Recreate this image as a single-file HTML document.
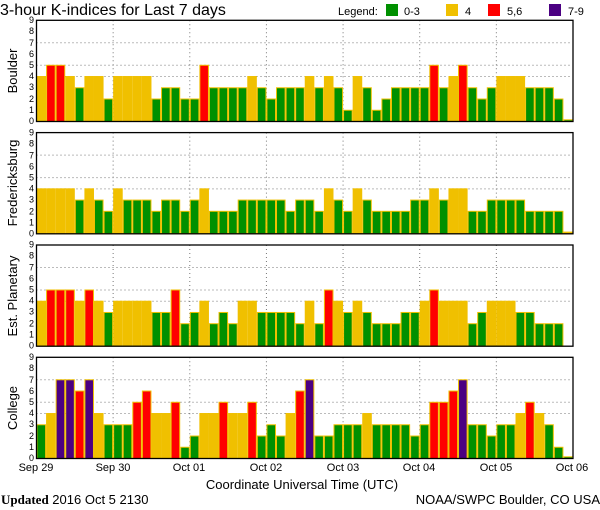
<!DOCTYPE html>
<html><head><meta charset="utf-8"><style>
body{margin:0;background:#fff;width:600px;height:510px;overflow:hidden}
svg{display:block}
text{font-family:"Liberation Sans","DejaVu Sans",sans-serif}
</style></head><body>
<svg id="s" width="600" height="510" viewBox="0 0 600 510" xmlns="http://www.w3.org/2000/svg">
<g id="bars"></g>
<text x="0" y="15" font-size="16">3-hour K-indices for Last 7 days</text>
<text x="338" y="15" font-size="11">Legend:</text>
<rect x="386" y="4" width="12" height="12" fill="#009000"/><text x="404" y="15" font-size="11">0-3</text>
<rect x="446" y="4" width="12" height="12" fill="#f0c000"/><text x="465" y="15" font-size="11">4</text>
<rect x="488" y="4" width="12" height="12" fill="#ff0000"/><text x="507" y="15" font-size="11">5,6</text>
<rect x="549" y="4" width="12" height="12" fill="#4b0082"/><text x="568" y="15" font-size="11">7-9</text>
<text transform="translate(17,71) rotate(-90)" font-size="13" text-anchor="middle">Boulder</text>
<text transform="translate(17,183) rotate(-90)" font-size="13" text-anchor="middle">Fredericksburg</text>
<text transform="translate(17,296) rotate(-90)" font-size="13" text-anchor="middle">Est. Planetary</text>
<text transform="translate(17,408) rotate(-90)" font-size="13" text-anchor="middle">College</text>
<g font-size="9" text-anchor="end">
<g transform="translate(0,0)"><text x="34" y="124">0</text><text x="34" y="113">1</text><text x="34" y="102">2</text><text x="34" y="90">3</text><text x="34" y="79">4</text><text x="34" y="68">5</text><text x="34" y="57">6</text><text x="34" y="46">7</text><text x="34" y="34">8</text><text x="34" y="23">9</text></g>
<g transform="translate(0,112.3)"><text x="34" y="124">0</text><text x="34" y="113">1</text><text x="34" y="102">2</text><text x="34" y="90">3</text><text x="34" y="79">4</text><text x="34" y="68">5</text><text x="34" y="57">6</text><text x="34" y="46">7</text><text x="34" y="34">8</text><text x="34" y="23">9</text></g>
<g transform="translate(0,224.7)"><text x="34" y="124">0</text><text x="34" y="113">1</text><text x="34" y="102">2</text><text x="34" y="90">3</text><text x="34" y="79">4</text><text x="34" y="68">5</text><text x="34" y="57">6</text><text x="34" y="46">7</text><text x="34" y="34">8</text><text x="34" y="23">9</text></g>
<g transform="translate(0,337)"><text x="34" y="124">0</text><text x="34" y="113">1</text><text x="34" y="102">2</text><text x="34" y="90">3</text><text x="34" y="79">4</text><text x="34" y="68">5</text><text x="34" y="57">6</text><text x="34" y="46">7</text><text x="34" y="34">8</text><text x="34" y="23">9</text></g>
</g>
<g font-size="11" text-anchor="middle">
<text x="36" y="471">Sep 29</text><text x="113" y="471">Sep 30</text><text x="189" y="471">Oct 01</text><text x="266" y="471">Oct 02</text><text x="343" y="471">Oct 03</text><text x="419" y="471">Oct 04</text><text x="496" y="471">Oct 05</text><text x="572" y="471">Oct 06</text>
</g>
<text x="302" y="489" font-size="13" text-anchor="middle">Coordinate Universal Time (UTC)</text>
<text x="1" y="504" font-size="13"><tspan font-family="Liberation Serif,serif" font-weight="bold">Updated</tspan> 2016 Oct  5 2130</text>
<text x="600" y="504" font-size="13" text-anchor="end">NOAA/SWPC Boulder, CO USA</text>
</svg>
<script>
var D=[
[4,5,5,4,3,4,4,2, 4,4,4,4,2,3,3,2, 2,5,3,3,3,3,4,3, 2,3,3,3,4,3,4,3, 1,4,3,1,2,3,3,3, 3,5,3,4,5,3,2,3, 4,4,4,3,3,3,2,0.15],
[4,4,4,4,3,4,3,2, 4,3,3,3,2,3,3,2, 3,4,2,2,2,3,3,3, 3,3,2,3,3,2,4,3, 2,4,3,2,2,2,2,3, 3,4,3,4,4,2,2,3, 3,3,3,2,2,2,2,-0.15],
[4,5,5,5,4,5,4,3, 4,4,4,4,3,3,5,2, 3,4,2,3,2,4,4,3, 3,3,3,2,4,2,5,4, 3,4,3,2,2,2,3,3, 4,5,4,4,4,2,3,4, 4,4,3,3,2,2,2,null],
[3,4,7,7,6,7,4,3, 3,3,5,6,4,4,5,1, 2,4,4,5,4,4,5,2, 3,2,4,6,7,2,2,3, 3,3,4,3,3,3,3,2, 3,5,5,6,7,3,3,2, 3,3,4,5,4,3,1,0.15]];
var T=[20.3,132.6,245,357.3],H=101.2,U=H/9,X0=36.5,W=536.5,BW=W/56;
var h='';
function col(v){return v<=3?'#009000':v<=4?'#f0c000':v<=6?'#ff0000':'#4b0082';}
for(var p=0;p<4;p++){var t=T[p],b=t+H;
 h+='<rect x="'+X0+'" y="'+t+'" width="'+W+'" height="'+H+'" fill="#fff"/>';
 [4,5,7].forEach(function(v){var y=b-v*U;h+='<line x1="'+X0+'" x2="'+(X0+W)+'" y1="'+y+'" y2="'+y+'" stroke="#777" stroke-dasharray="1,3"/>';});
 for(var d=1;d<7;d++){var x=X0+d*W/7;h+='<line x1="'+x+'" x2="'+x+'" y1="'+t+'" y2="'+b+'" stroke="#777" stroke-dasharray="1,3"/>';}
 for(var i=0;i<56;i++){var v=D[p][i];if(v==null)continue;var c=v<0?'#f0c000':col(v);var vv=Math.abs(v);
  var x=X0+i*BW,y=b-vv*U;h+='<rect x="'+(x+0.5)+'" y="'+y+'" width="'+(BW-1)+'" height="'+(vv*U)+'" fill="'+c+'" stroke="#f0c000" stroke-width="1"/>';}
 h+='<rect x="'+X0+'" y="'+t+'" width="'+W+'" height="'+H+'" fill="none" stroke="#000" stroke-width="1.3"/>';
}
document.getElementById('bars').innerHTML=h;
</script>
</body></html>
